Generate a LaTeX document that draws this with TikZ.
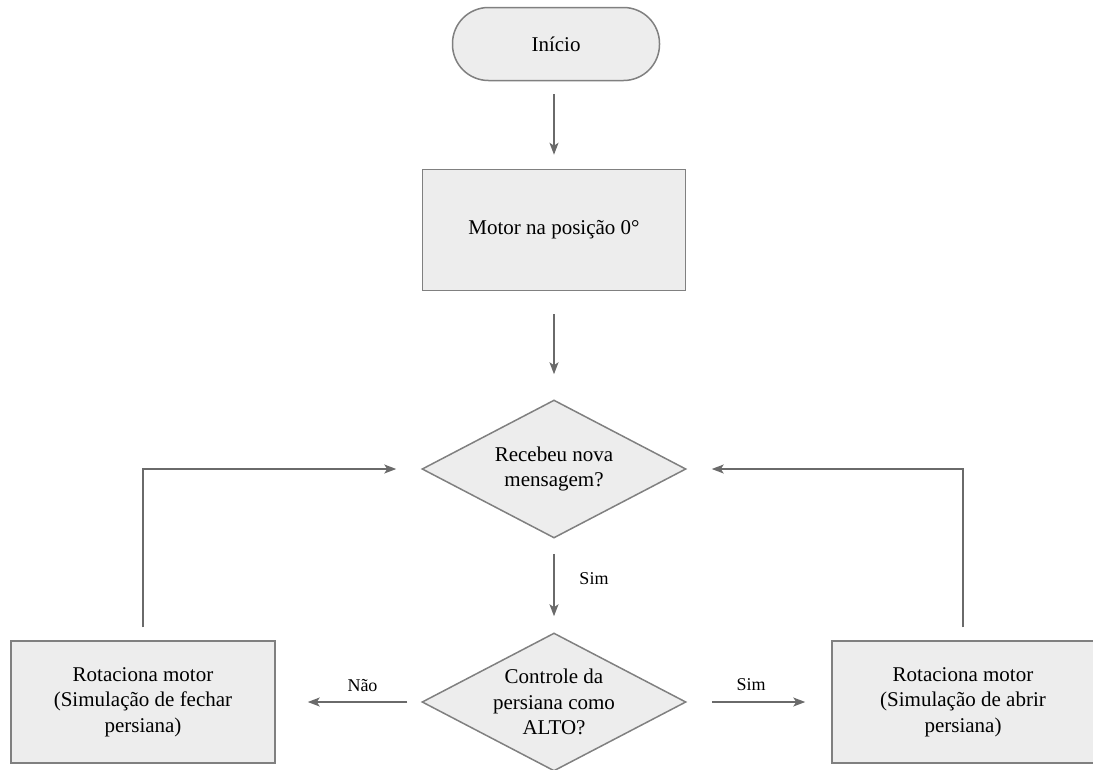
\documentclass[tikz,border=0pt]{standalone}
\usepackage{fontspec}
\setmainfont{Liberation Serif}
\usetikzlibrary{shapes.geometric,arrows.meta,calc}
\definecolor{boxfill}{HTML}{EDEDED}
\definecolor{boxline}{HTML}{808080}
\definecolor{arrline}{HTML}{6A6A6A}
\begin{document}
\begin{tikzpicture}[x=1pt,y=-1pt,
  every node/.style={font=\fontsize{21}{25.5}\selectfont, text=black, align=center},
  procbox/.style={draw=boxline, fill=boxfill, line width=1.5pt, rectangle, inner sep=0pt},
  termbox/.style={draw=boxline, fill=boxfill, line width=1.5pt, rectangle, rounded corners=36pt, inner sep=0pt, minimum width=207pt, minimum height=73pt},
  decbox/.style={draw=boxline, fill=boxfill, line width=1.5pt, diamond, shape aspect=1.91, inner sep=0pt, minimum width=264pt, minimum height=138pt},
  conn/.style={draw=arrline, line width=1.5pt, -{Stealth[length=12pt,width=9pt,inset=3pt]}},
  lbl/.style={font=\fontsize{18}{21}\selectfont, inner sep=0pt}]
\useasboundingbox (0,0) rectangle (1093,769);

\node[termbox] (start) at (556,44) {Início};
\node[procbox, minimum width=263pt, minimum height=121pt] (motor) at (554,230) {Motor na posição 0°};
\node[decbox] (d1) at (554,469) {Recebeu nova\\mensagem?};
\node[decbox] (d2) at (554,702) {Controle da\\persiana como\\ALTO?};
\node[procbox, minimum width=264pt, minimum height=122pt] (fechar) at (143,702) {Rotaciona motor\\(Simulação de fechar\\persiana)};
\node[procbox, minimum width=262pt, minimum height=122pt] (abrir) at (963,702) {Rotaciona motor\\(Simulação de abrir\\persiana)};

\draw[conn, shorten <=13pt, shorten >=14pt] (start.south -| motor.north) -- (motor.north);
\draw[conn, shorten <=23pt, shorten >=25pt] (motor) -- (d1);
\draw[conn, shorten <=15pt, shorten >=16pt] (d1) -- node[lbl, midway, xshift=40pt, yshift=7pt] {Sim} (d2);
\draw[conn, shorten <=14pt, shorten >=32pt] (d2.west) -- node[lbl, midway, xshift=14pt, yshift=16pt] {Não} (fechar.east);
\draw[conn, shorten <=25pt, shorten >=26pt] (d2.east) -- node[lbl, midway, xshift=-8pt, yshift=17pt] {Sim} (abrir.west);
\draw[conn, shorten <=13pt, shorten >=25pt] (fechar.north) |- (d1.west);
\draw[conn, shorten <=13pt, shorten >=25pt] (abrir.north) |- (d1.east);
\end{tikzpicture}
\end{document}
